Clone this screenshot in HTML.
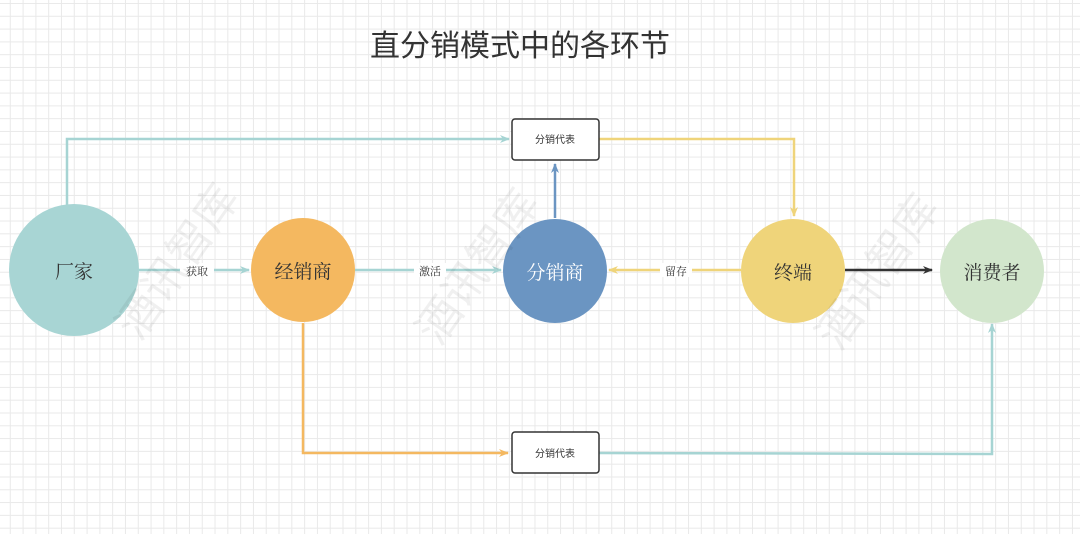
<!DOCTYPE html>
<html><head><meta charset="utf-8"><style>
html,body{margin:0;padding:0;}
body{width:1080px;height:534px;overflow:hidden;background:#fff;
background-image:linear-gradient(#e9e9e9 1px,transparent 1px),linear-gradient(90deg,#e9e9e9 1px,transparent 1px);
background-size:12.8px 12.8px;background-position:-3px 3px;}
svg{position:absolute;left:0;top:0;}
text{font-family:"Liberation Sans","Noto Sans CJK SC",sans-serif;}
.s{font-family:"Liberation Serif","Noto Serif CJK SC",serif;}
</style></head><body>
<svg width="1080" height="534" viewBox="0 0 1080 534">
<defs>
<marker id="teal" markerWidth="10" markerHeight="8" refX="9" refY="4" orient="auto" markerUnits="userSpaceOnUse"><path d="M0,0L10,4L0,8L3,4z" fill="#a6d4d3"/></marker>
<marker id="yel" markerWidth="10" markerHeight="8" refX="9" refY="4" orient="auto" markerUnits="userSpaceOnUse"><path d="M0,0L10,4L0,8L3,4z" fill="#efd47a"/></marker>
<marker id="blu" markerWidth="10" markerHeight="8" refX="9" refY="4" orient="auto" markerUnits="userSpaceOnUse"><path d="M0,0L10,4L0,8L3,4z" fill="#6b95c2"/></marker>
<marker id="org" markerWidth="10" markerHeight="8" refX="9" refY="4" orient="auto" markerUnits="userSpaceOnUse"><path d="M0,0L10,4L0,8L3,4z" fill="#f4b860"/></marker>
<marker id="blk" markerWidth="10" markerHeight="8" refX="9" refY="4" orient="auto" markerUnits="userSpaceOnUse"><path d="M0,0L10,4L0,8L3,4z" fill="#333"/></marker>
</defs>
<text x="520" y="56" font-size="30" text-anchor="middle" fill="#333">直分销模式中的各环节</text>
<g fill="none" stroke-width="2.5">
<path d="M67,205V139H509" stroke="#a6d4d3" marker-end="url(#teal)"/>
<path d="M139,270H249" stroke="#a6d4d3" marker-end="url(#teal)"/>
<path d="M355,270H501" stroke="#a6d4d3" marker-end="url(#teal)"/>
<path d="M599,139H794V216" stroke="#efd47a" marker-end="url(#yel)"/>
<path d="M741,270H609" stroke="#efd47a" marker-end="url(#yel)"/>
<path d="M555,218V164" stroke="#6b95c2" marker-end="url(#blu)"/>
<path d="M845,270H932" stroke="#333" marker-end="url(#blk)"/>
<path d="M303,323V453H508" stroke="#f4b860" marker-end="url(#org)"/>
<path d="M599,453L992,454V324" stroke="#a6d4d3" marker-end="url(#teal)"/>
</g>
<rect x="180" y="263" width="34" height="14" fill="#fff"/>
<rect x="414" y="263" width="32" height="14" fill="#fff"/>
<rect x="660" y="263" width="32" height="14" fill="#fff"/>
<g font-size="11" fill="#333" text-anchor="middle" class="s">
<text class="s" x="197" y="275">获取</text><text class="s" x="430" y="275">激活</text><text class="s" x="676" y="275">留存</text>
</g>
<ellipse cx="74" cy="270" rx="65" ry="66" fill="#a8d5d4"/>
<circle cx="303" cy="270" r="52" fill="#f4b860"/>
<circle cx="555" cy="271" r="52" fill="#6b95c2"/>
<circle cx="793" cy="271" r="52" fill="#efd47a"/>
<circle cx="992" cy="271" r="52" fill="#d2e6cc"/>
<g font-size="19" text-anchor="middle" fill="#333">
<text class="s" x="74" y="278">厂家</text><text class="s" x="303" y="278">经销商</text><text class="s" x="555" y="279" fill="#fff">分销商</text><text class="s" x="793" y="279">终端</text><text class="s" x="992" y="279">消费者</text>
</g>
<rect x="512" y="119" width="87" height="41" rx="3" fill="#fff" stroke="#333" stroke-width="1.5"/>
<rect x="512" y="432" width="87" height="41" rx="3" fill="#fff" stroke="#333" stroke-width="1.5"/>
<g font-size="10" text-anchor="middle" fill="#333"><text x="555" y="143">分销代表</text><text x="555" y="457">分销代表</text></g>
<g font-size="44" fill="#000" fill-opacity="0.06" text-anchor="middle">
<text transform="translate(190,270) rotate(-55)">酒讯智库</text>
<text transform="translate(490,275) rotate(-55)">酒讯智库</text>
<text transform="translate(890,280) rotate(-55)">酒讯智库</text>
</g>
</svg>
</body></html>
